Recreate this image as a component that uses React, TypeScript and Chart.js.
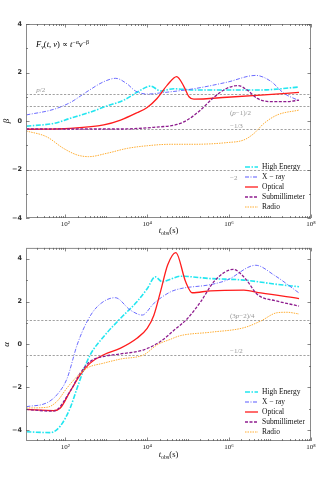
import React, { useEffect, useRef } from "react";
import { Chart, registerables } from "chart.js";
Chart.register(...registerables);

// ---------- axes / ticks ----------
const X_MIN = 11;
const X_MAX = 1e8;
const X_TICKS = [1e2, 1e4, 1e6, 1e8];
const X_TICK_LABELS = ["10²", "10⁴", "10⁶", "10⁸"];
const Y_TICKS = [-4, -2, 0, 2, 4];
const BETA_RANGE = [-4, 4];
const ALPHA_RANGE = [-4.5, 4.5];
const SERIES_LABELS = ["High Energy", "X − ray", "Optical", "Submillimeter", "Radio"];

// ---------- reference lines (p = 2.2) ----------
const BETA_REF_VALUES = [1.1, 0.6, -1 / 3, -2];
const BETA_REF_LABELS = ["p/2", "(p−1)/2", "−1/3", "−2"];
const ALPHA_REF_VALUES = [1.15, -0.5];
const ALPHA_REF_LABELS = ["(3p−2)/4", "−1/2"];

// ---------- spectral index beta ----------
const T_HE_B = [11.2, 52, 132, 339, 1047, 2690, 5620, 1.2e4, 2.14e4, 4.47e4, 1.38e5, 8.9e5, 5.9e6, 5.1e7];
const B_HE = [-0.21, -0.1, 0.11, 0.32, 0.62, 0.86, 1.18, 1.44, 1.24, 1.33, 1.28, 1.28, 1.28, 1.4];
const T_X_B = [11.2, 52, 132, 339, 871, 1700, 3240, 5130, 1e4, 2.14e4, 1.38e5, 8.9e5, 4.47e6, 1.02e7, 2.2e7, 5.1e7];
const B_X = [0.25, 0.48, 0.76, 1.21, 1.62, 1.76, 1.53, 1.24, 1.11, 1.16, 1.33, 1.6, 1.88, 1.65, 1.14, 0.84];
const T_O_B = [11.2, 132, 871, 2240, 5620, 1e4, 1.74e4, 3.09e4, 5.25e4, 7.9e4, 1.05e5, 1.38e5, 8.9e5, 5.9e6, 5.1e7];
const B_O = [-0.34, -0.3, -0.16, 0.04, 0.34, 0.56, 0.93, 1.48, 1.83, 1.42, 1.0, 0.9, 0.98, 1.07, 1.18];
const T_S_B = [11.2, 132, 2240, 1.45e4, 5.4e4, 9.5e4, 2e5, 4.27e5, 8.9e5, 1.66e6, 2.75e6, 4.9e6, 1.02e7, 2.6e7, 5.1e7];
const B_S = [-0.33, -0.33, -0.33, -0.26, -0.14, 0.04, 0.45, 0.98, 1.35, 1.46, 1.28, 0.93, 0.8, 0.8, 0.86];
const T_R_B = [11.2, 35, 91, 195, 372, 1047, 3240, 1e4, 3.7e4, 1.38e5, 8.9e5, 2.3e6, 4.07e6, 7.1e6, 1.5e7, 5.1e7];
const B_R = [-0.41, -0.65, -1.13, -1.4, -1.47, -1.33, -1.13, -1.02, -0.96, -0.96, -0.89, -0.78, -0.51, -0.1, 0.25, 0.45];

// ---------- temporal index alpha ----------
const T_HE_A = [11.2, 43.6, 75.9, 132, 195, 282, 407, 871, 2240, 5620, 1e4, 1.58e4, 2.34e4, 3.7e4, 6.46e4, 3.55e5, 2.3e6, 1.5e7, 5.1e7];
const A_HE = [-4.07, -4.11, -3.8, -2.96, -2.03, -1.18, -0.48, 0.37, 1.22, 1.99, 2.6, 3.15, 2.92, 3.04, 3.18, 3.07, 3.0, 2.8, 2.69];
const T_X_A = [11.2, 35.5, 63, 110, 195, 339, 603, 1660, 3890, 7590, 1.45e4, 3.7e4, 6.46e4, 3.55e5, 8.9e5, 4.47e6, 1.26e7, 5.1e7];
const A_X = [-2.9, -2.72, -2.34, -1.6, -0.02, 1.06, 1.76, 2.18, 1.6, 1.37, 1.91, 2.45, 2.6, 2.79, 3.0, 3.69, 3.23, 2.4];
const T_O_A = [11.2, 52, 75.9, 132, 234, 407, 871, 2240, 5620, 1e4, 1.45e4, 2.14e4, 3.16e4, 5e4, 8.7e4, 1.26e5, 3.55e5, 2.3e6, 5.9e6, 5.1e7];
const A_O = [-3.03, -3.08, -2.96, -2.18, -1.41, -0.87, -0.48, -0.17, 0.29, 0.75, 1.35, 2.5, 3.7, 4.28, 2.92, 2.41, 2.5, 2.53, 2.4, 2.14];
const T_S_A = [11.2, 52, 132, 234, 407, 871, 2240, 8300, 2.14e4, 4.57e4, 9.5e4, 2.04e5, 4.37e5, 1.26e6, 2.5e6, 4.9e6, 1.5e7, 5.1e7];
const A_S = [-3.03, -3.11, -2.18, -1.33, -0.79, -0.56, -0.44, -0.25, 0.15, 0.67, 1.2, 2.0, 2.95, 3.5, 3.07, 2.33, 2.02, 1.79];
const T_R_A = [11.2, 35.5, 63, 110, 195, 339, 871, 2240, 8300, 1.74e4, 3.7e4, 6.46e4, 3.55e5, 2.3e6, 5.9e6, 1.5e7, 2.6e7, 5.1e7];
const A_R = [-2.96, -2.93, -2.65, -2.03, -1.49, -1.1, -0.87, -0.68, -0.48, -0.02, 0.24, 0.41, 0.57, 0.78, 1.09, 1.48, 1.5, 1.42];

// ---------- styles ----------
const STYLES = [
  { color: "#22e6f0", width: 1.6, dash: [5, 1.5, 1.5, 1.5] },
  { color: "#5a5aff", width: 0.9, dash: [4, 1.5, 1, 1.5] },
  { color: "#ff1c1c", width: 1.3, dash: [] as number[] },
  { color: "#8e1c8e", width: 1.3, dash: [3, 1.5] },
  { color: "#ffad33", width: 1.0, dash: [1.5, 1] },
];
const SERIF = "'Liberation Serif', 'DejaVu Serif', serif";
const SANS = "'DejaVu Sans', sans-serif";

type Seg = { t: string; size: number; dy?: number; it?: boolean };

function drawRich(ctx: CanvasRenderingContext2D, segs: Seg[], x: number, y: number, center: boolean) {
  let w = 0;
  for (const s of segs) {
    ctx.font = `${s.it ? "italic " : ""}${s.size}px ${SERIF}`;
    w += ctx.measureText(s.t).width;
  }
  let cx = center ? x - w / 2 : x;
  ctx.textAlign = "left";
  ctx.textBaseline = "alphabetic";
  for (const s of segs) {
    ctx.font = `${s.it ? "italic " : ""}${s.size}px ${SERIF}`;
    ctx.fillText(s.t, cx, y + (s.dy || 0));
    cx += ctx.measureText(s.t).width;
  }
}

function mathSegs(str: string, size: number): Seg[] {
  return str.split("").map((c) => ({ t: c, size, it: /[a-zA-Z]/.test(c) }));
}

type RefCfg = { v: number; label: string; x: number; dy: number };
type PanelCfg = {
  times: number[][];
  values: number[][];
  yRange: number[];
  yTitle: string;
  refs: RefCfg[];
  padTop: number;
  xAxisH: number;
  legendTop: number;
  formula: boolean;
  xTitleY: number;
};

function makeDecor(cfg: PanelCfg) {
  return {
    id: "decor",
    beforeDatasetsDraw(chart: any) {
      const { ctx, chartArea: a, scales } = chart;
      const xs = scales.x, ys = scales.y;
      ctx.save();
      ctx.strokeStyle = "#8a8a8a";
      ctx.lineWidth = 0.8;
      ctx.setLineDash([2.2, 1.6]);
      for (const r of cfg.refs) {
        const y = Math.round(ys.getPixelForValue(r.v)) + 0.5;
        ctx.beginPath();
        ctx.moveTo(a.left, y);
        ctx.lineTo(a.right, y);
        ctx.stroke();
      }
      ctx.setLineDash([]);
      ctx.fillStyle = "#999";
      for (const r of cfg.refs) {
        drawRich(ctx, mathSegs(r.label, 7), xs.getPixelForValue(r.x), ys.getPixelForValue(r.v) + r.dy, false);
      }
      ctx.restore();
    },
    afterDraw(chart: any) {
      const { ctx, chartArea: a, scales } = chart;
      const xs = scales.x, ys = scales.y;
      ctx.save();
      // frame
      ctx.strokeStyle = "#8a8a8a";
      ctx.lineWidth = 1;
      ctx.strokeRect(a.left + 0.5, a.top + 0.5, a.right - a.left - 1, a.bottom - a.top - 1);
      // ticks
      ctx.strokeStyle = "#555";
      ctx.lineWidth = 0.7;
      const tick = (x1: number, y1: number, x2: number, y2: number) => {
        ctx.beginPath();
        ctx.moveTo(x1, y1);
        ctx.lineTo(x2, y2);
        ctx.stroke();
      };
      for (let e = 1; e <= 8; e++) {
        for (let m = 1; m <= 9; m++) {
          const v = m * Math.pow(10, e);
          if (v < X_MIN || v > X_MAX) continue;
          const major = m === 1 && e % 2 === 0;
          const len = major ? 3.5 : 2;
          const x = Math.round(xs.getPixelForValue(v)) + 0.5;
          tick(x, a.bottom, x, a.bottom - len);
          tick(x, a.top, x, a.top + len);
        }
      }
      for (let v = Math.ceil(cfg.yRange[0]); v <= Math.floor(cfg.yRange[1]); v++) {
        const major = v % 2 === 0;
        const len = major ? 3.5 : 2;
        const y = Math.round(ys.getPixelForValue(v)) + 0.5;
        tick(a.left, y, a.left + len, y);
        tick(a.right, y, a.right - len, y);
      }
      // axis titles
      ctx.fillStyle = "#111";
      drawRich(
        ctx,
        [
          { t: "t", size: 8.5, it: true },
          { t: "obs", size: 6, dy: 2 },
          { t: "(s)", size: 8.5 },
        ],
        (a.left + a.right) / 2,
        cfg.xTitleY,
        true
      );
      ctx.save();
      ctx.translate(9, (a.top + a.bottom) / 2);
      ctx.rotate(-Math.PI / 2);
      drawRich(ctx, [{ t: cfg.yTitle, size: 9, it: true }], 0, 0, true);
      ctx.restore();
      // formula
      if (cfg.formula) {
        ctx.fillStyle = "#000";
        drawRich(
          ctx,
          [
            { t: "F", size: 8.5, it: true },
            { t: "ν", size: 6, it: true, dy: 2 },
            { t: "(", size: 8.5 },
            { t: "t", size: 8.5, it: true },
            { t: ", ", size: 8.5 },
            { t: "ν", size: 8.5, it: true },
            { t: ") ∝ ", size: 8.5 },
            { t: "t", size: 8.5, it: true },
            { t: "−α", size: 6, dy: -3.5 },
            { t: "ν", size: 8.5, it: true },
            { t: "−β", size: 6, dy: -3.5 },
          ],
          36,
          47,
          false
        );
      }
      // legend
      chart.data.datasets.forEach((ds: any, i: number) => {
        const y = cfg.legendTop + i * 10;
        ctx.strokeStyle = ds.borderColor;
        ctx.lineWidth = Math.max(ds.borderWidth, 1.2);
        ctx.setLineDash(ds.borderDash || []);
        ctx.beginPath();
        ctx.moveTo(245, y);
        ctx.lineTo(258, y);
        ctx.stroke();
        ctx.setLineDash([]);
        ctx.fillStyle = "#111";
        ctx.font = `7.5px ${SERIF}`;
        ctx.textAlign = "left";
        ctx.textBaseline = "middle";
        ctx.fillText(ds.label, 262, y + 0.5);
      });
      ctx.restore();
    },
  };
}

function buildConfig(cfg: PanelCfg): any {
  const datasets = SERIES_LABELS.map((label, i) => ({
    label,
    data: cfg.times[i].map((t, k) => ({ x: t, y: cfg.values[i][k] })),
    borderColor: STYLES[i].color,
    borderWidth: STYLES[i].width,
    borderDash: STYLES[i].dash,
    pointRadius: 0,
    fill: false,
    cubicInterpolationMode: "monotone",
    order: SERIES_LABELS.length - i,
  }));
  return {
    type: "line",
    data: { datasets },
    plugins: [makeDecor(cfg)],
    options: {
      animation: false,
      responsive: false,
      devicePixelRatio: 1,
      layout: { padding: { left: 0, right: 9, top: cfg.padTop, bottom: 0 } },
      plugins: { legend: { display: false }, tooltip: { enabled: false } },
      scales: {
        x: {
          type: "logarithmic",
          min: X_MIN,
          max: X_MAX,
          grid: { display: false, drawTicks: false },
          border: { display: false },
          afterBuildTicks: (s: any) => {
            s.ticks = X_TICKS.map((v) => ({ value: v }));
          },
          afterFit: (s: any) => {
            s.height = cfg.xAxisH;
          },
          ticks: {
            autoSkip: false,
            maxRotation: 0,
            padding: 2,
            color: "#222",
            font: { family: SERIF, size: 7 },
            callback: (v: number) => {
              const i = X_TICKS.indexOf(v);
              return i >= 0 ? X_TICK_LABELS[i] : "";
            },
          },
        },
        y: {
          type: "linear",
          min: cfg.yRange[0],
          max: cfg.yRange[1],
          grid: { display: false, drawTicks: false },
          border: { display: false },
          afterBuildTicks: (s: any) => {
            s.ticks = Y_TICKS.map((v) => ({ value: v }));
          },
          afterFit: (s: any) => {
            s.width = 26;
          },
          ticks: {
            padding: 4,
            color: "#333",
            font: { family: SANS, size: 6.5, weight: "bold" },
            callback: (v: number) => (v < 0 ? "−" + Math.abs(v) : String(v)),
          },
        },
      },
    },
  };
}

const BETA_CFG: PanelCfg = {
  times: [T_HE_B, T_X_B, T_O_B, T_S_B, T_R_B],
  values: [B_HE, B_X, B_O, B_S, B_R],
  yRange: BETA_RANGE,
  yTitle: "β",
  refs: [
    { v: BETA_REF_VALUES[0], label: BETA_REF_LABELS[0], x: 19.5, dy: -2 },
    { v: BETA_REF_VALUES[1], label: BETA_REF_LABELS[1], x: 1.05e6, dy: 8.5 },
    { v: BETA_REF_VALUES[2], label: BETA_REF_LABELS[2], x: 1.05e6, dy: -1.5 },
    { v: BETA_REF_VALUES[3], label: BETA_REF_LABELS[3], x: 1.05e6, dy: 10 },
  ],
  padTop: 24,
  xAxisH: 22,
  legendTop: 167,
  formula: true,
  xTitleY: 233,
};

const ALPHA_CFG: PanelCfg = {
  times: [T_HE_A, T_X_A, T_O_A, T_S_A, T_R_A],
  values: [A_HE, A_X, A_O, A_S, A_R],
  yRange: ALPHA_RANGE,
  yTitle: "α",
  refs: [
    { v: ALPHA_REF_VALUES[0], label: ALPHA_REF_LABELS[0], x: 1.05e6, dy: -2 },
    { v: ALPHA_REF_VALUES[1], label: ALPHA_REF_LABELS[1], x: 1.05e6, dy: -2 },
  ],
  padTop: 7,
  xAxisH: 39,
  legendTop: 152,
  formula: false,
  xTitleY: 217,
};

function Panel({ cfg }: { cfg: PanelCfg }) {
  const ref = useRef<HTMLCanvasElement>(null);
  useEffect(() => {
    const chart = new Chart(ref.current as HTMLCanvasElement, buildConfig(cfg));
    return () => chart.destroy();
  }, [cfg]);
  return <canvas ref={ref} width={320} height={240} style={{ display: "block", width: 320, height: 240 }} />;
}

export default function App() {
  return (
    <div style={{ position: "fixed", left: 0, top: 0, width: 320, height: 480, background: "#fff" }}>
      <Panel cfg={BETA_CFG} />
      <Panel cfg={ALPHA_CFG} />
    </div>
  );
}
